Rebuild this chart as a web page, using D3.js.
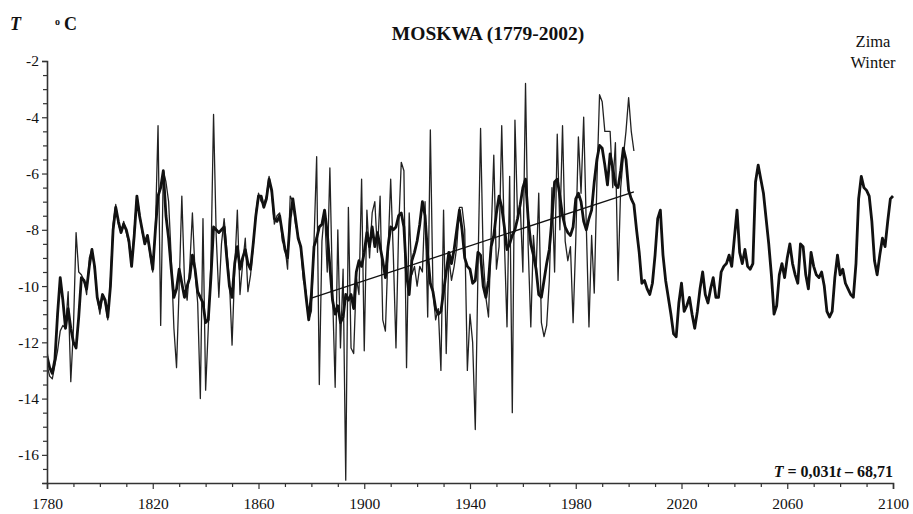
<!DOCTYPE html>
<html>
<head>
<meta charset="utf-8">
<script src="https://cdn.jsdelivr.net/npm/d3@7"></script>
<style>
  html, body { margin: 0; padding: 0; background: #fff; }
  svg { display: block; }
  text { font-family: "Liberation Serif", "Times New Roman", serif; fill: #111; }
</style>
</head>
<body>
<svg id="chart" width="913" height="514"></svg>
<script>
// ---------------- DATA ----------------
const titleText = "MOSKWA (1779-2002)";
const seasonLabels = ["Zima", "Winter"];

// x-axis tick labels (years) and y-axis tick labels (°C)
const xMajorTicks = [1780, 1820, 1860, 1900, 1940, 1980, 2020, 2060, 2100];
const xMinorTicks = [1790, 1800, 1810, 1830, 1840, 1850, 1870, 1880, 1890, 1910, 1920, 1930,
                     1950, 1960, 1970, 1990, 2000, 2010, 2030, 2040, 2050, 2070, 2080, 2090];
const yMajorTicks = [-2, -4, -6, -8, -10, -12, -14, -16];
const yMinorTicks = [-2.5, -3, -3.5, -4.5, -5, -5.5, -6.5, -7, -7.5, -8.5, -9, -9.5,
                     -10.5, -11, -11.5, -12.5, -13, -13.5, -14.5, -15, -15.5, -16.5, -17];

// observed winter temperature, one value per year starting 1779 (thin line)
const observedStart = 1779;
const observed = [
  -11.5, -12.8, -13.2, -13.3, -12.8, -12.3, -11.6, -11.4, -11.5, -10.2, // 1779-1788
  -13.4, -11.5, -8.1, -9.5, -9.6, -9.8, -10.3, -9.0, -8.7, -9.4,        // 1789-1798
  -10.4, -11.0, -10.3, -10.6, -11.2, -9.8, -7.8, -7.1, -7.8, -8.1,      // 1799-1808
  -7.7, -8.1, -8.5, -9.3, -8.0, -6.8, -7.4, -8.1, -8.4, -8.2,           // 1809-1818
  -8.9, -9.5, -8.0, -4.3, -11.4, -5.9, -6.3, -7.0, -9.0, -11.5,         // 1819-1828
  -12.9, -10.0, -6.8, -9.8, -10.5, -9.3, -7.4, -9.5, -10.6, -14.0,      // 1829-1838
  -7.6, -13.7, -11.5, -9.2, -3.9, -8.2, -10.4, -8.5, -7.6, -8.7,        // 1839-1848
  -9.8, -12.1, -9.4, -7.3, -10.3, -9.2, -8.3, -10.2, -9.6, -8.6,        // 1849-1858
  -7.4, -6.7, -7.0, -7.1, -6.8, -6.1, -6.7, -7.8, -7.5, -7.4,           // 1859-1868
  -8.4, -8.6, -9.4, -6.8, -7.0, -7.8, -8.2, -8.7, -9.8, -10.2,          // 1869-1878
  -11.2, -10.9, -8.4, -5.4, -13.5, -8.4, -7.3, -9.5, -5.8, -10.2,       // 1879-1888
  -13.6, -8.0, -12.2, -9.4, -16.9, -7.2, -12.2, -12.4, -9.7, -10.3,     // 1889-1898
  -6.2, -12.3, -7.3, -9.0, -7.4, -7.0, -8.8, -6.8, -11.2, -11.6,        // 1899-1908
  -8.8, -6.2, -8.9, -12.2, -8.0, -5.6, -5.9, -12.9, -7.4, -9.6,         // 1909-1918
  -9.3, -10.0, -9.3, -9.5, -7.0, -11.1, -4.45, -10.2, -11.2, -10.8,     // 1919-1928
  -13.0, -7.3, -12.4, -9.0, -9.8, -9.3, -8.6, -7.2, -7.2, -8.0,         // 1929-1938
  -13.0, -11.0, -12.0, -15.1, -9.5, -4.4, -9.0, -10.4, -11.1, -8.2,     // 1939-1948
  -5.35, -9.4, -8.6, -4.3, -8.4, -11.45, -6.1, -14.5, -4.1, -7.6,       // 1949-1958
  -7.1, -9.5, -2.8, -8.6, -11.45, -8.2, -9.5, -6.7, -11.3, -11.8,       // 1959-1968
  -11.4, -9.8, -6.5, -9.5, -4.6, -8.0, -4.3, -8.4, -9.1, -8.6,          // 1969-1978
  -11.3, -8.4, -4.7, -6.7, -4.0, -7.9, -11.45, -8.2, -10.25, -6.3,      // 1979-1988
  -3.2, -3.45, -4.5, -4.5, -4.5, -6.5, -4.9, -9.8, -6.5, -5.4,          // 1989-1998
  -4.5, -3.3, -4.5, -5.2                                                // 1999-2002
];

// model / smoothed series with projection, one value per year from 1779 (thick line)
const modelStart = 1779;
const model = [
  -11.7, -12.5, -12.9, -13.1, -12.6, -11.0, -9.7, -10.5, -11.5, -10.8,  // 1779-1788
  -11.5, -12.0, -12.2, -11.1, -9.7, -9.8, -10.1, -9.3, -8.7, -9.3,      // 1789-1798
  -10.4, -10.8, -10.3, -10.5, -11.1, -10.0, -8.0, -7.2, -7.7, -8.1,     // 1799-1808
  -7.8, -8.0, -8.4, -9.3, -8.2, -6.8, -7.5, -8.0, -8.5, -8.2,           // 1809-1818
  -8.8, -9.4, -8.0, -6.8, -6.5, -5.9, -7.5, -8.3, -9.4, -10.4,          // 1819-1828
  -10.1, -9.4, -9.9, -10.4, -10.0, -9.7, -8.9, -9.4, -10.2, -10.4,      // 1829-1838
  -10.6, -11.3, -11.2, -9.7, -7.9, -8.0, -8.1, -8.0, -7.9, -9.0,        // 1839-1848
  -10.0, -10.4, -9.2, -8.6, -9.4, -9.0, -8.7, -9.2, -9.4, -8.5,         // 1849-1858
  -7.5, -6.8, -6.8, -7.2, -6.9, -6.2, -6.6, -7.6, -7.7, -7.5,           // 1859-1868
  -8.1, -8.7, -9.0, -7.6, -6.9, -7.6, -8.3, -8.6, -9.5, -10.4,          // 1869-1878
  -11.2, -10.3, -8.6, -8.3, -7.9, -7.8, -7.3, -8.1, -9.3, -10.5,        // 1879-1888
  -11.0, -10.7, -11.3, -11.1, -10.3, -10.5, -10.3, -10.8, -9.5, -9.1,   // 1889-1898
  -9.3, -8.8, -8.1, -8.6, -7.9, -8.6, -8.1, -8.6, -9.1, -9.7,           // 1899-1908
  -8.6, -7.9, -8.0, -7.9, -7.5, -7.4, -7.9, -9.6, -10.3, -9.1,          // 1909-1918
  -8.8, -8.4, -7.8, -7.0, -7.5, -8.9, -9.9, -10.2, -10.8, -11.0,        // 1919-1928
  -10.9, -10.2, -9.5, -8.8, -9.2, -8.7, -8.0, -7.3, -8.0, -9.0,         // 1929-1938
  -9.3, -9.4, -9.9, -9.8, -8.8, -8.9, -10.0, -10.4, -9.8, -8.6,         // 1939-1948
  -8.2, -7.4, -6.8, -7.2, -7.9, -8.7, -8.5, -8.2, -8.0, -7.6,           // 1949-1958
  -7.1, -6.5, -6.2, -7.6, -8.5, -8.9, -9.4, -10.3, -10.4, -9.8,         // 1959-1968
  -9.2, -8.7, -7.6, -6.3, -6.2, -6.8, -7.5, -7.9, -8.1, -8.2,           // 1969-1978
  -7.9, -6.9, -6.7, -7.0, -7.7, -8.0, -7.6, -7.3, -6.3, -5.5,           // 1979-1988
  -5.0, -5.1, -5.7, -6.4, -5.3, -5.8, -6.4, -6.5, -5.9, -5.1,           // 1989-1998
  -5.5, -6.6, -6.9, -7.1, -8.0, -8.8, -9.9, -9.8, -10.1, -10.3,         // 1999-2008
  -9.9, -8.9, -7.6, -7.3, -8.9, -9.8, -10.4, -11.0, -11.7, -11.8,       // 2009-2018
  -10.6, -9.9, -10.9, -10.7, -10.4, -11.0, -11.5, -10.9, -10.1, -9.5,   // 2019-2028
  -10.3, -10.6, -10.1, -9.7, -10.4, -10.4, -9.5, -9.3, -9.2, -8.9,      // 2029-2038
  -9.3, -8.3, -7.3, -8.8, -9.2, -8.7, -9.3, -9.4, -9.2, -6.3,           // 2039-2048
  -5.7, -6.2, -6.7, -7.6, -8.5, -9.6, -11.0, -10.7, -9.6, -9.2,         // 2049-2058
  -9.7, -9.0, -8.5, -9.2, -9.6, -9.9, -8.5, -8.6, -9.6, -10.1,          // 2059-2068
  -8.8, -9.3, -9.6, -9.7, -9.5, -10.0, -10.9, -11.1, -10.9, -9.7,       // 2069-2078
  -8.9, -9.6, -9.4, -9.9, -10.1, -10.3, -10.4, -9.2, -6.9, -6.1,        // 2079-2088
  -6.5, -6.6, -6.8, -7.7, -9.1, -9.6, -8.9, -8.3, -8.6, -7.7,           // 2089-2098
  -6.9, -6.8                                                            // 2099-2100
];

// linear trend T = 0,031 t - 68,71 over 1880-2002
const trendSlope = 0.031;
const trendIntercept = -68.71;
const trendYears = [1880, 2002];

// ---------------- CHART ----------------
const svg = d3.select("#chart");
const x = d3.scaleLinear().domain([1780, 2100]).range([47, 893]);
const y = d3.scaleLinear().domain([-17, -2]).range([483, 61]);

const ink = "#111";

svg.append("defs").append("clipPath").attr("id", "plot")
  .append("rect").attr("x", x(1780)).attr("y", 0)
  .attr("width", x(2100) - x(1780) + 2).attr("height", 514);

const obsData = observed.map((v, i) => ({ year: observedStart + i, t: v }));
const modData = model.map((v, i) => ({ year: modelStart + i, t: v }));
const trendData = trendYears.map(t => ({ year: t, t: trendSlope * t + trendIntercept }));

const line = d3.line().x(d => x(d.year)).y(d => y(d.t));

const g = svg.append("g").attr("clip-path", "url(#plot)");
g.append("path").datum(obsData).attr("d", line)
  .attr("fill", "none").attr("stroke", "#222").attr("stroke-width", 1.3)
  .attr("stroke-linejoin", "round");
g.append("path").datum(modData).attr("d", line)
  .attr("fill", "none").attr("stroke", ink).attr("stroke-width", 2.8)
  .attr("stroke-linejoin", "round");
g.append("path").datum(trendData).attr("d", line)
  .attr("fill", "none").attr("stroke", ink).attr("stroke-width", 1.3);

// Axes
svg.append("g").attr("transform", `translate(${x(1780)},0)`)
  .call(d3.axisLeft(y).tickValues(yMajorTicks).tickSize(5).tickPadding(3)
    .tickFormat(d => String(d)));
svg.append("g").attr("transform", `translate(${x(1780)},0)`)
  .call(d3.axisLeft(y).tickValues(yMinorTicks).tickSize(4).tickFormat(""))
  .select(".domain").remove();

svg.append("g").attr("transform", `translate(0,${y(-17)})`)
  .call(d3.axisBottom(x).tickValues(xMajorTicks).tickSize(6).tickPadding(9)
    .tickFormat(d => String(d)));
svg.append("g").attr("transform", `translate(0,${y(-17)})`)
  .call(d3.axisBottom(x).tickValues(xMinorTicks).tickSize(4).tickFormat(""))
  .select(".domain").remove();

svg.selectAll(".domain").attr("stroke", "#333").attr("stroke-width", 1.6);
svg.selectAll(".tick line").attr("stroke", "#333").attr("stroke-width", 1.2);
svg.selectAll(".tick text")
  .attr("font-family", "Liberation Serif, Times New Roman, serif")
  .attr("font-size", 15.5).attr("fill", "#222");

// Titles and annotations
svg.append("text").attr("x", 488).attr("y", 40).attr("text-anchor", "middle")
  .attr("font-size", 19.5).attr("font-weight", "bold").text(titleText);

const unit = svg.append("text").attr("x", 10).attr("y", 30)
  .attr("font-size", 18).attr("font-weight", "bold");
unit.append("tspan").attr("font-style", "italic").text("T");
unit.append("tspan").attr("x", 55).attr("dy", -5).attr("font-size", 10).text("o");
unit.append("tspan").attr("x", 64).attr("dy", 5).attr("font-size", 18).text("C");

svg.selectAll(".season").data(seasonLabels).enter().append("text")
  .attr("class", "season").attr("x", 873).attr("y", (d, i) => 47 + i * 21)
  .attr("text-anchor", "middle").attr("font-size", 16.5).text(d => d);

const eq = svg.append("text").attr("x", 893).attr("y", 477)
  .attr("text-anchor", "end").attr("font-size", 16).attr("font-weight", "bold");
eq.append("tspan").attr("font-style", "italic").text("T");
eq.append("tspan").text(" = 0,031");
eq.append("tspan").attr("font-style", "italic").text("t");
eq.append("tspan").text(" \u2013 68,71");
</script>
</body>
</html>
